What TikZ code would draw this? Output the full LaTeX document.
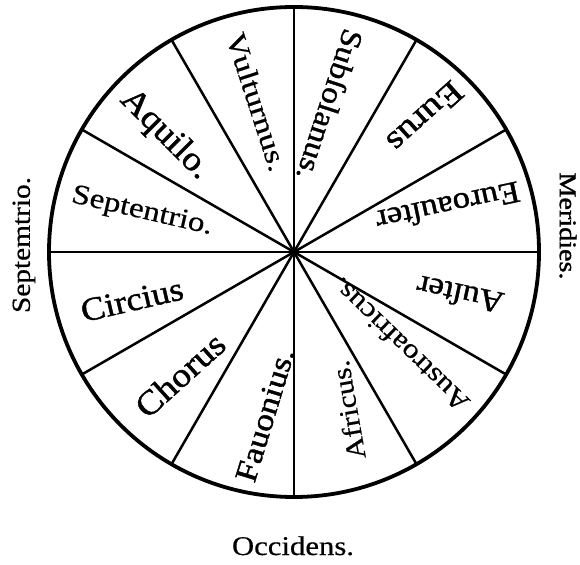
\documentclass[tikz,border=0pt]{standalone}
\usepackage{fontspec}
\setmainfont{Liberation Serif}[BoldFont=Liberation Serif, BoldFeatures={FakeBold=0.5}]
\newfontfamily\heavyfont{Liberation Serif}[BoldFont=Liberation Serif, BoldFeatures={FakeBold=1.2}]
\usepackage{graphicx}
\newcommand\windlab[3]{\resizebox{#2pt}{\height}{\fontsize{#1}{#1}\selectfont\bfseries #3}}
\newcommand\heavylab[3]{\resizebox{#2pt}{\height}{\fontsize{#1}{#1}\selectfont\heavyfont\bfseries #3}}
\begin{document}
\begin{tikzpicture}[x=1pt,y=1pt,
  lbl/.style={inner sep=0pt, outer sep=0pt},
  spoke/.style={line width=2.5pt},
  rimline/.style={line width=3.8pt}]
\useasboundingbox (0,0) rectangle (580,564);
\coordinate (O) at (294,312);
\node[circle, minimum size=490pt, inner sep=0pt, outer sep=0pt] (rim) at (O) {};
\foreach \a in {0,30,...,330} {
  \draw[spoke] (O) -- (rim.\a);
}
\draw[rimline] (O) circle[radius=245];
% sector labels
\node[lbl, rotate=-72]  (vult) at (257,462) {\windlab{28}{144}{Vulturnus.}};
\node[lbl, rotate=-108] (subs) at (330,459) {\heavylab{30}{157}{Subſolanus.}};
\node[lbl, rotate=-138] (euru) at (425,447) {\heavylab{33}{90}{Eurus}};
\node[lbl, rotate=192]  (eura) at (448,357) {\heavylab{31}{146}{Euroauſter}};
\node[lbl, rotate=168]  (aust) at (460,269) {\heavylab{31}{88}{Auſter}};
\node[lbl, rotate=136]  (ausa) at (400,219) {\windlab{27}{180}{Austroafricus.}};
\node[lbl, rotate=100]  (afri) at (348,154) {\windlab{27}{100}{Africus.}};
\node[lbl, rotate=73]   (fauo) at (265,149) {\heavylab{31}{138}{Fauonius.}};
\node[lbl, rotate=42]   (chor) at (180,189) {\heavylab{34}{108}{Chorus}};
\node[lbl, rotate=13]   (circ) at (132,264) {\heavylab{33}{104}{Circius}};
\node[lbl, rotate=-13]  (sept) at (142,352) {\windlab{28}{144}{Septentrio.}};
\node[lbl, rotate=-45]  (aqui) at (165,429) {\heavylab{34}{113}{Aquilo.}};
% outer labels
\node[lbl, anchor=base] (occi) at (293,9) {\windlab{27}{122}{Occidens.}};
\node[lbl, rotate=-90] (meri) at (568,338) {\heavylab{24}{107}{Meridies.}};
\node[lbl, rotate=90]  (sepm) at (24,319) {\windlab{26}{136}{Septemtrio.}};
\end{tikzpicture}
\end{document}
